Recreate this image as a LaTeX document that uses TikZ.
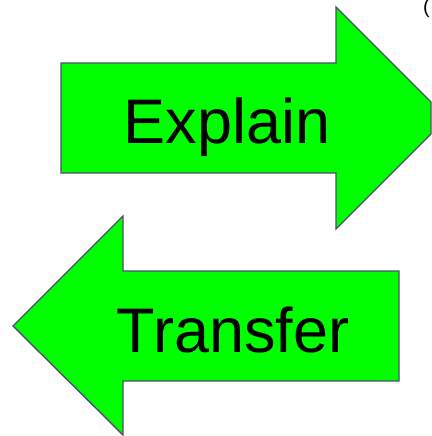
\documentclass[tikz,border=0pt]{standalone}
\usepackage{fontspec}
\setmainfont{Liberation Sans}
\usepackage{tikz}

\definecolor{arrowgreen}{RGB}{0,255,0}
\definecolor{arrowline}{RGB}{75,80,105}

\tikzset{
  bigarrow/.style={fill=arrowgreen,draw=arrowline,line width=1.4pt},
  arrowtext/.style={font=\fontsize{63}{70}\selectfont,inner sep=0pt,anchor=base}
}

\begin{document}
\begin{tikzpicture}[x=1pt,y=-1pt]
        \useasboundingbox (0,0) rectangle (431,436);

        % right arrow (tip runs off the right edge)
        \filldraw[bigarrow] (61,63) -- (336,63) -- (336,7) -- (431,102)
            -- (431,134) -- (336,229) -- (336,173) -- (61,173) -- cycle;
        % left arrow
        \filldraw[bigarrow] (399,271) -- (123,271) -- (123,216) -- (13,326)
            -- (123,435) -- (123,381) -- (399,381) -- cycle;

        \node[arrowtext] (E) at (227,143) {Explain};
        \node[arrowtext] (T) at (233,352) {Transfer};
        \begin{scope}
          \clip (0,0) rectangle (431,436);
          \node[font=\fontsize{20}{24}\selectfont,inner sep=0pt,anchor=south west] (P) at (423,18) {(};
        \end{scope}
    \end{tikzpicture}
\end{document}
